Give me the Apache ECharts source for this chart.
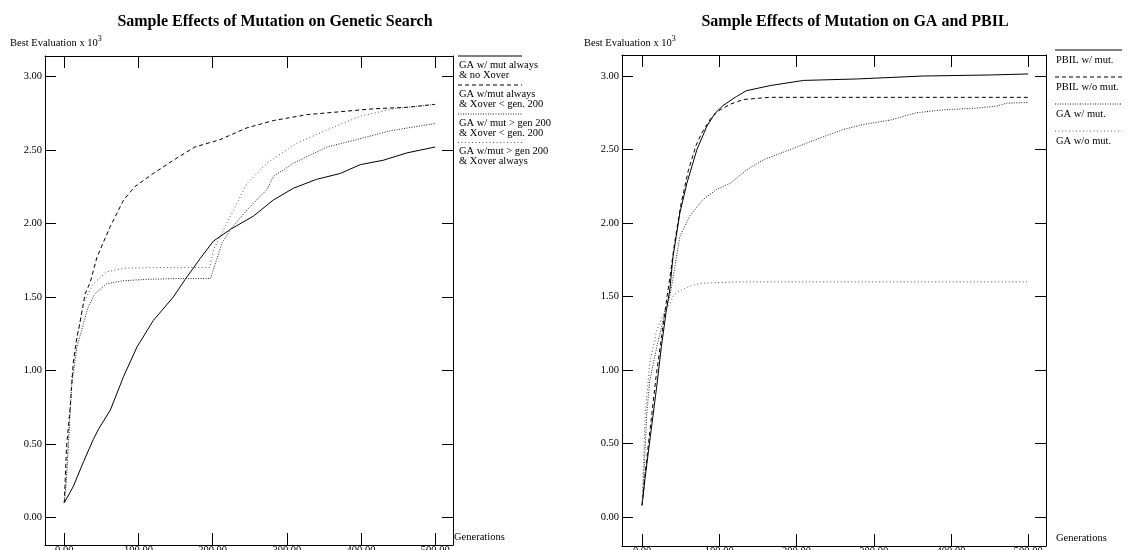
<!DOCTYPE html>
<html>
<head>
<meta charset="utf-8">
<script src="https://cdn.jsdelivr.net/npm/echarts@6/dist/echarts.min.js"></script>
<style>
html,body{margin:0;padding:0;background:#fff;}
#chart{width:1139px;height:550px;}
</style>
</head>
<body>
<div id="chart"></div>
<script>
// ---------- data ----------
const xTickValues = [0, 100, 200, 300, 400, 500];
const yTickValues = [0, 0.5, 1.0, 1.5, 2.0, 2.5, 3.0];

const leftTitle = 'Sample Effects of Mutation on Genetic Search';
const rightTitle = 'Sample Effects of Mutation on GA and PBIL';
const yAxisTitle = 'Best Evaluation x 10';
const yAxisExp = '3';
const xAxisTitle = 'Generations';

const leftNames = [
  'GA w/ mut always\n& no Xover',
  'GA w/mut always\n& Xover < gen. 200',
  'GA w/ mut > gen 200\n& Xover < gen. 200',
  'GA w/mut > gen 200\n& Xover always'
];
const rightNames = ['PBIL w/ mut.', 'PBIL w/o mut.', 'GA w/ mut.', 'GA w/o mut.'];

// left chart
const L1_x = [0, 12, 26, 39, 46, 62, 80, 98, 120, 147, 163, 183, 201, 224, 255, 282, 309, 340, 372, 399, 430, 462, 500];
const L1_y = [0.10, 0.21, 0.38, 0.53, 0.60, 0.73, 0.96, 1.16, 1.34, 1.50, 1.62, 1.76, 1.88, 1.96, 2.05, 2.16, 2.24, 2.30, 2.34, 2.40, 2.43, 2.48, 2.52];

const L2_x = [0, 3, 8, 12, 17, 21, 28, 35, 44, 62, 80, 95, 120, 147, 176, 210, 246, 282, 327, 372, 417, 462, 500];
const L2_y = [0.10, 0.48, 0.75, 1.05, 1.23, 1.32, 1.52, 1.60, 1.77, 1.98, 2.16, 2.25, 2.34, 2.43, 2.52, 2.57, 2.65, 2.70, 2.74, 2.76, 2.78, 2.79, 2.81];

const L3_x = [0, 3, 10, 17, 26, 32, 41, 57, 79, 111, 150, 197, 205, 213, 224, 246, 273, 282, 309, 354, 394, 439, 500];
const L3_y = [0.10, 0.26, 0.90, 1.16, 1.32, 1.43, 1.52, 1.59, 1.61, 1.62, 1.625, 1.625, 1.75, 1.87, 1.96, 2.09, 2.23, 2.32, 2.41, 2.52, 2.57, 2.63, 2.68];

const L4_x = [0, 3, 10, 17, 21, 26, 39, 57, 80, 120, 196, 201, 212, 228, 246, 273, 313, 349, 399, 444, 500];
const L4_y = [0.10, 0.30, 0.95, 1.20, 1.33, 1.46, 1.59, 1.67, 1.695, 1.70, 1.70, 1.82, 1.93, 2.09, 2.27, 2.41, 2.545, 2.625, 2.73, 2.78, 2.81];

// right chart
const R1_x = [0, 4, 10, 19, 25, 31, 36, 40, 49, 58, 71, 84, 95, 105, 122, 135, 166, 209, 278, 364, 450, 500];
const R1_y = [0.08, 0.27, 0.52, 0.89, 1.16, 1.39, 1.55, 1.77, 2.07, 2.27, 2.50, 2.66, 2.75, 2.80, 2.86, 2.90, 2.935, 2.97, 2.98, 3.00, 3.007, 3.014];

const R2_x = [0, 4, 10, 18, 25, 31, 36, 42, 50, 60, 70, 77, 90, 101, 115, 131, 165, 250, 500];
const R2_y = [0.08, 0.30, 0.58, 0.95, 1.22, 1.45, 1.63, 1.86, 2.12, 2.36, 2.53, 2.61, 2.72, 2.77, 2.81, 2.84, 2.855, 2.855, 2.855];

const R3_x = [0, 2, 6, 10, 20, 30, 36, 49, 62, 79, 97, 114, 135, 157, 192, 226, 260, 286, 321, 355, 390, 429, 459, 472, 500];
const R3_y = [0.08, 0.25, 0.70, 0.93, 1.18, 1.40, 1.50, 1.91, 2.05, 2.16, 2.23, 2.27, 2.36, 2.43, 2.50, 2.57, 2.635, 2.67, 2.70, 2.75, 2.77, 2.78, 2.795, 2.815, 2.82];

const R4_x = [0, 4, 10, 19, 30, 36, 41, 49, 62, 75, 97, 130, 500];
const R4_y = [0.08, 0.70, 1.05, 1.27, 1.41, 1.45, 1.51, 1.54, 1.57, 1.59, 1.595, 1.60, 1.60];

// ---------- styles ----------
const FONT = '"Liberation Serif", "Times New Roman", serif';
const styles = [
  { color: '#000', type: 'solid', width: 1 },
  { color: '#000', type: [4, 3], width: 1 },
  { color: '#222', type: [1, 1.5], width: 1 },
  { color: '#555', type: [1, 2.5], width: 1 }
];

function pairs(xs, ys) { return xs.map((x, i) => [x, ys[i]]); }

function xAx(grid, pos, min, max, withLabels, name, nameGap) {
  return {
    gridIndex: grid, type: 'value', position: pos, min: min, max: max,
    axisLine: { show: true, onZero: false, lineStyle: { color: '#000', width: 1 } },
    axisTick: { show: true, inside: true, length: 12, customValues: xTickValues, lineStyle: { color: '#000' } },
    axisLabel: withLabels ? {
      show: true, customValues: xTickValues, margin: 0, color: '#000',
      fontFamily: FONT, fontSize: 10.5, formatter: v => v.toFixed(2)
    } : { show: false },
    splitLine: { show: false },
    name: name || '', nameLocation: 'end', nameGap: nameGap || 0,
    nameTextStyle: { fontFamily: FONT, fontSize: 10.5, color: '#000', align: 'left', verticalAlign: 'bottom', padding: [0, 0, 2, 0] }
  };
}
function yAx(grid, pos, min, max, withLabels) {
  return {
    gridIndex: grid, type: 'value', position: pos, min: min, max: max,
    axisLine: { show: true, onZero: false, lineStyle: { color: '#000', width: 1 } },
    axisTick: { show: true, inside: true, length: 11, customValues: yTickValues, lineStyle: { color: '#000' } },
    axisLabel: withLabels ? {
      show: true, customValues: yTickValues, margin: 3, color: '#000',
      fontFamily: FONT, fontSize: 10.5, formatter: v => v.toFixed(2)
    } : { show: false },
    splitLine: { show: false }
  };
}

function line(name, data, xi, yi, st) {
  return {
    name: name, type: 'line', xAxisIndex: xi, yAxisIndex: yi, data: data,
    showSymbol: false, symbol: 'none', smooth: false, silent: true,
    lineStyle: { color: st.color, type: st.type, width: st.width }
  };
}

// legend graphics
const graphics = [];
function legendItem(x, lineY, textY, len, st, text) {
  graphics.push({
    type: 'line', shape: { x1: x, y1: lineY, x2: x + len, y2: lineY },
    style: { stroke: st.color, lineWidth: 1, lineDash: st.type === 'solid' ? null : st.type }
  });
  graphics.push({
    type: 'text', x: x + 1, y: textY,
    style: { text: text, fill: '#000', font: '10.5px ' + FONT, lineHeight: 10, textVerticalAlign: 'top' }
  });
}
const leftLineY = [56, 85, 114, 142.5];
leftNames.forEach((n, i) => legendItem(458, leftLineY[i], leftLineY[i] + 4, 64, styles[i], n));
const rightLineY = [50, 77, 104, 131];
rightNames.forEach((n, i) => legendItem(1055, rightLineY[i], rightLineY[i] + 5, 67, styles[i], n));

// y axis titles
[[10, 43], [584, 43]].forEach(p => {
  graphics.push({
    type: 'text', x: p[0], y: p[1],
    style: {
      text: '{a|' + yAxisTitle + '}{s|' + yAxisExp + '}',
      textVerticalAlign: 'middle',
      rich: {
        a: { fontFamily: FONT, fontSize: 10.5, fill: '#000' },
        s: { fontFamily: FONT, fontSize: 8, fill: '#000', padding: [0, 0, 8, 0] }
      }
    }
  });
});

const chart = echarts.init(document.getElementById('chart'), null, { renderer: 'canvas' });
chart.setOption({
  animation: false,
  backgroundColor: '#fff',
  title: [
    { text: leftTitle, left: 270, top: 9, textAlign: 'center',
      textStyle: { fontFamily: FONT, fontSize: 16, fontWeight: 'bold', color: '#000' } },
    { text: rightTitle, left: 850, top: 9, textAlign: 'center',
      textStyle: { fontFamily: FONT, fontSize: 16, fontWeight: 'bold', color: '#000' } }
  ],
  grid: [
    { left: 45, top: 56, width: 408, height: 489, containLabel: false, outerBoundsMode: 'none' },
    { left: 622, top: 55, width: 424, height: 491, containLabel: false, outerBoundsMode: 'none' }
  ],
  xAxis: [
    xAx(0, 'bottom', -26, 524, true, xAxisTitle, 1),
    xAx(0, 'top', -26, 524, false),
    xAx(1, 'bottom', -26, 523, true, xAxisTitle, 10),
    xAx(1, 'top', -26, 523, false)
  ],
  yAxis: [
    yAx(0, 'left', -0.187, 3.139, true),
    yAx(0, 'right', -0.187, 3.139, false),
    yAx(1, 'left', -0.197, 3.143, true),
    yAx(1, 'right', -0.197, 3.143, false)
  ],
  series: [
    line(leftNames[0], pairs(L1_x, L1_y), 0, 0, styles[0]),
    line(leftNames[1], pairs(L2_x, L2_y), 0, 0, styles[1]),
    line(leftNames[2], pairs(L3_x, L3_y), 0, 0, styles[2]),
    line(leftNames[3], pairs(L4_x, L4_y), 0, 0, styles[3]),
    line(rightNames[0], pairs(R1_x, R1_y), 2, 2, styles[0]),
    line(rightNames[1], pairs(R2_x, R2_y), 2, 2, styles[1]),
    line(rightNames[2], pairs(R3_x, R3_y), 2, 2, styles[2]),
    line(rightNames[3], pairs(R4_x, R4_y), 2, 2, styles[3])
  ],
  graphic: graphics
});
</script>
</body>
</html>
